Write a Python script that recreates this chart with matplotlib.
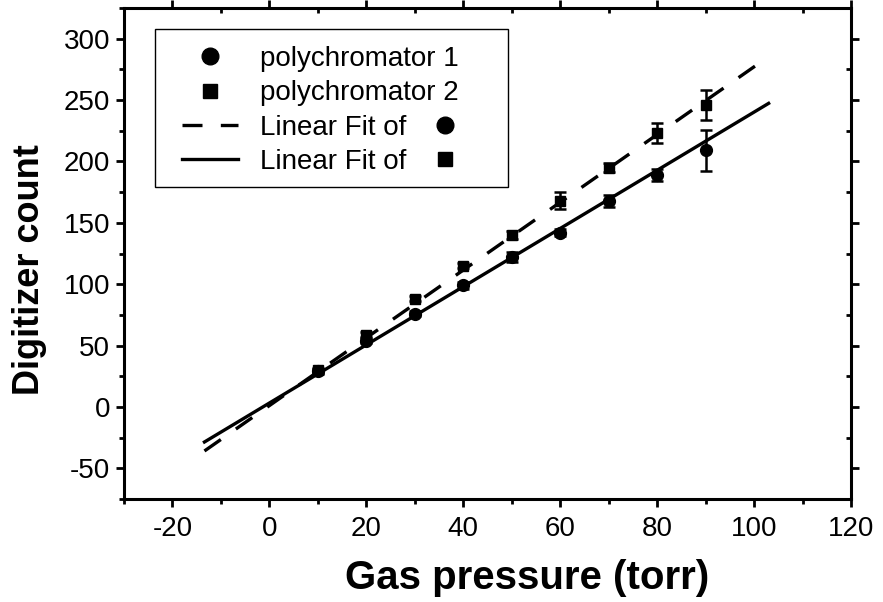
import matplotlib
matplotlib.use("Agg")
import matplotlib.pyplot as plt
import numpy as np
from matplotlib.ticker import MultipleLocator
from matplotlib.lines import Line2D
from matplotlib.patches import Rectangle

plt.rcParams['font.family'] = ['Liberation Sans', 'DejaVu Sans']
plt.rcParams['axes.unicode_minus'] = False

pressure = [10, 20, 30, 40, 50, 60, 70, 80, 90]
poly1 = [29, 54, 76, 99, 122, 142, 168, 189, 209]
poly1_err = [2, 2, 2, 3, 4, 3, 5, 5, 17]
poly2 = [30, 59, 88, 115, 140, 168, 195, 223, 246]
poly2_err = [2, 2, 2, 2, 3, 7, 4, 8, 12]

fit_range = [-13.4, 103]
fit1_slope, fit1_intercept = 2.37, 3.2
fit2_slope, fit2_intercept = 2.76, 1.1

fig = plt.figure(figsize=(8.83, 6.02), dpi=100)
ax = fig.add_axes([124/883, 1-499/602, 727/883, 491/602])

dash = (0, (6, 5.5))
fx = np.array(fit_range)
ax.plot(fx, fit2_intercept + fit2_slope*fx, color='black', lw=2.4, ls=dash, zorder=2)
ax.plot(fx, fit1_intercept + fit1_slope*fx, color='black', lw=2.4, ls='-', zorder=2)

ax.errorbar(pressure, poly1, yerr=poly1_err, fmt='o', color='black', ms=8.5,
            capsize=4, elinewidth=1.8, capthick=1.8, zorder=3)
ax.errorbar(pressure, poly2, yerr=poly2_err, fmt='s', color='black', ms=7.5,
            capsize=4, elinewidth=1.8, capthick=1.8, zorder=3)

ax.set_xlim(-30, 120)
ax.set_ylim(-75, 325)
ax.xaxis.set_major_locator(MultipleLocator(20))
ax.xaxis.set_minor_locator(MultipleLocator(10))
ax.yaxis.set_major_locator(MultipleLocator(50))
ax.yaxis.set_minor_locator(MultipleLocator(25))

for s in ax.spines.values():
    s.set_linewidth(2.2)

ax.tick_params(which='both', direction='out', width=2, top=True, right=True,
               labelsize=20)
ax.tick_params(which='major', length=6)
ax.tick_params(which='minor', length=3.5)
for t in ax.xaxis.get_major_ticks() + ax.xaxis.get_minor_ticks():
    t.tick2line.set_marker(matplotlib.lines.TICKDOWN)
for t in ax.yaxis.get_major_ticks() + ax.yaxis.get_minor_ticks():
    t.tick2line.set_marker(matplotlib.lines.TICKLEFT)
ax.tick_params(axis='x', pad=6)
ax.tick_params(axis='y', pad=4)

ax.set_xlabel('Gas pressure (torr)', fontsize=29, fontweight='bold')
ax.xaxis.set_label_coords((527-124)/727, (499-578)/491)
ax.xaxis.label.set_va('center')
ax.set_ylabel('Digitizer count', fontsize=26, fontweight='bold')
ax.yaxis.set_label_coords((30-124)/727, (499-270)/491)
ax.yaxis.label.set_va('center')

# legend frame
ax.add_patch(Rectangle(((155-124)/727, (499-187)/491), (508-155)/727, (187-29)/491,
                       transform=ax.transAxes, fill=True, facecolor='white',
                       edgecolor='black', lw=1.0, zorder=4, clip_on=False))

blank = Line2D([], [], ls='none')
handles = [
    Line2D([], [], ls='none', marker='o', color='black', ms=12),
    Line2D([], [], ls='none', marker='s', color='black', ms=10),
    Line2D([], [], ls=dash, color='black', lw=2.4),
    Line2D([], [], ls='-', color='black', lw=2.4),
    blank, blank,
    Line2D([], [], ls='none', marker='o', color='black', ms=12),
    Line2D([], [], ls='none', marker='s', color='black', ms=10),
]
labels = ['polychromator 1', 'polychromator 2', 'Linear Fit of', 'Linear Fit of',
          '', '', '', '']
leg = ax.legend(handles, labels, loc='upper left', ncol=2,
                bbox_to_anchor=((182-124)/727, (499-46)/491),
                fontsize=20, frameon=False, handlelength=2.0, borderpad=0,
                labelspacing=0.30, handletextpad=0.8, borderaxespad=0,
                columnspacing=-1.5)
leg.set_zorder(5)

fig.savefig('out.png', dpi=100)
